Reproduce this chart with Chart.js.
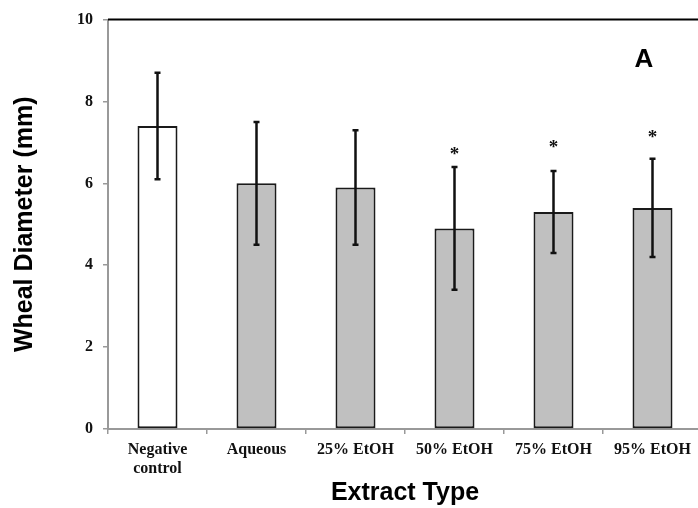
<!DOCTYPE html>
<html>
<head>
<meta charset="utf-8">
<script src="https://cdn.jsdelivr.net/npm/chart.js@4/dist/chart.umd.min.js"></script>
<style>
  html, body { margin: 0; padding: 0; background: #fff; overflow: hidden; }
  #wrap { width: 698px; height: 508px; overflow: hidden; position: relative; }
  canvas { display: block; }
</style>
</head>
<body>
<div id="wrap"><canvas id="c" width="710" height="508"></canvas></div>
<script>
// ---- data ----
const categories = [["Negative", "control"], "Aqueous", "25% EtOH", "50% EtOH", "75% EtOH", "95% EtOH"];
const means = [7.4, 6.0, 5.9, 4.9, 5.3, 5.4];
const errors = [1.3, 1.5, 1.4, 1.5, 1.0, 1.2];
const significance = ["", "", "", "*", "*", "*"];
const markerLevels = [null, null, null, 6.8, 6.95, 7.2];
const yTicks = [0, 2, 4, 6, 8, 10];
const panelLabel = "A";

const barColors = means.map((v, i) => i === 0 ? '#ffffff' : '#c0c0c0');

const extras = {
  id: 'extras',
  afterDatasetsDraw(chart) {
    const ctx = chart.ctx;
    const meta = chart.getDatasetMeta(0);
    const y = chart.scales.y;
    ctx.save();
    // top border
    ctx.strokeStyle = '#000';
    ctx.lineWidth = 2;
    ctx.beginPath();
    ctx.moveTo(chart.chartArea.left, chart.chartArea.top);
    ctx.lineTo(chart.chartArea.right, chart.chartArea.top);
    ctx.stroke();
    // error bars
    ctx.strokeStyle = '#111';
    ctx.lineWidth = 2.5;
    meta.data.forEach((bar, i) => {
      const x = bar.x;
      const yt = y.getPixelForValue(means[i] + errors[i]);
      const yb = y.getPixelForValue(means[i] - errors[i]);
      ctx.beginPath();
      ctx.moveTo(x, yt); ctx.lineTo(x, yb);
      ctx.moveTo(x - 3, yt); ctx.lineTo(x + 3, yt);
      ctx.moveTo(x - 3, yb); ctx.lineTo(x + 3, yb);
      ctx.stroke();
    });
    // significance markers
    ctx.fillStyle = '#111';
    ctx.font = 'bold 19px "Liberation Serif", "Times New Roman", serif';
    ctx.textAlign = 'center';
    ctx.textBaseline = 'middle';
    meta.data.forEach((bar, i) => {
      if (significance[i]) {
        ctx.fillText(significance[i], bar.x, y.getPixelForValue(markerLevels[i]) + 4);
      }
    });
    // panel label
    ctx.fillStyle = '#000';
    ctx.font = 'bold 26px "Liberation Sans", Arial, sans-serif';
    ctx.fillText(panelLabel, chart.chartArea.right - 58, chart.chartArea.top + 40);
    ctx.restore();
  }
};

new Chart(document.getElementById('c'), {
  type: 'bar',
  data: {
    labels: categories,
    datasets: [{
      data: means,
      backgroundColor: barColors,
      borderColor: '#1a1a1a',
      borderWidth: 2,
      borderSkipped: false,
      categoryPercentage: 1.0,
      barPercentage: 0.404
    }]
  },
  options: {
    responsive: false,
    devicePixelRatio: 1,
    animation: false,
    layout: { padding: { top: 19, right: 8, left: 0, bottom: 0 } },
    plugins: { legend: { display: false }, tooltip: { enabled: false } },
    scales: {
      x: {
        grid: { display: true, drawOnChartArea: false, offset: true, tickLength: 5, color: '#999', lineWidth: 1.5 },
        border: { color: '#999', width: 2 },
        ticks: {
          color: '#111', padding: 6, maxRotation: 0, autoSkip: false,
          font: { family: '"Liberation Serif", "Times New Roman", serif', size: 16, weight: 'bold', lineHeight: 1.2 }
        },
        title: {
          display: true, text: 'Extract Type', color: '#000',
          font: { family: '"Liberation Sans", Arial, sans-serif', size: 25, weight: 'bold', lineHeight: 1.2 },
          padding: { top: 0, bottom: 0 }
        },
        afterFit(scale) { scale.height = 79; }
      },
      y: {
        min: 0, max: 10,
        afterBuildTicks(scale) { scale.ticks = yTicks.map(v => ({ value: v })); },
        grid: { display: true, drawOnChartArea: false, tickLength: 5, color: '#999', lineWidth: 1.5 },
        border: { color: '#999', width: 2 },
        ticks: {
          color: '#111', padding: 10,
          font: { family: '"Liberation Serif", "Times New Roman", serif', size: 16, weight: 'bold' }
        },
        title: {
          display: true, text: 'Wheal Diameter (mm)', color: '#000',
          font: { family: '"Liberation Sans", Arial, sans-serif', size: 25, weight: 'bold', lineHeight: 1.2 },
          padding: { top: 10, bottom: 0 }
        },
        afterFit(scale) { scale.width = 108; }
      }
    }
  },
  plugins: [extras]
});
</script>
</body>
</html>
